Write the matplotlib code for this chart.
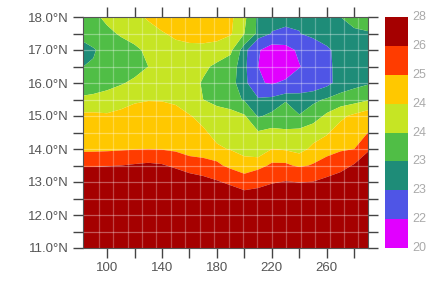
import numpy as np
import matplotlib
matplotlib.use("Agg")
import matplotlib.pyplot as plt
from matplotlib.colors import ListedColormap, BoundaryNorm

lons = [80, 90, 100, 110, 120, 130, 140, 150, 160, 170, 180,
        190, 200, 210, 220, 230, 240, 250, 260, 270, 280, 290]
lats = [18.0, 17.5, 17.0, 16.5, 16.0, 15.5, 15.0, 14.5, 14.0,
        13.5, 13.0, 12.5, 12.0, 11.5, 11.0]

# values per latitude row (north to south), one per longitude
sst = [
    [23.8, 23.9, 24.1, 24.3, 24.4, 24.55, 24.8, 24.9, 24.9, 24.85, 24.8, 24.6, 24.1, 23.4, 23.2, 23.1, 23.1, 23.2, 23.3, 23.5, 23.7, 23.8],
    [23.7, 23.8, 23.9, 24.05, 24.2, 24.35, 24.45, 24.62, 24.7, 24.72, 24.68, 24.55, 24.0, 23.4, 22.97, 22.93, 22.98, 23.2, 23.3, 23.35, 23.4, 23.45],
    [23.15, 23.45, 23.7, 23.8, 23.9, 24.1, 24.2, 24.3, 24.35, 24.35, 24.3, 24.1, 23.25, 22.1, 21.5, 21.6, 22.2, 22.5, 22.9, 23.2, 23.3, 23.35],
    [23.48, 23.55, 23.65, 23.7, 23.8, 24.0, 24.15, 24.25, 24.2, 24.1, 23.9, 23.75, 23.2, 22.0, 21.2, 21.3, 21.95, 22.4, 22.9, 23.15, 23.25, 23.3],
    [23.6, 23.7, 23.8, 23.95, 24.1, 24.2, 24.25, 24.3, 24.2, 23.95, 23.75, 23.65, 23.25, 22.1, 21.9, 22.2, 22.5, 22.6, 22.85, 23.2, 23.35, 23.45],
    [24.1, 24.15, 24.25, 24.35, 24.45, 24.48, 24.48, 24.45, 24.3, 24.0, 23.8, 23.7, 23.45, 23.1, 23.2, 23.45, 23.3, 23.4, 23.55, 23.7, 23.8, 23.95],
    [24.6, 24.6, 24.55, 24.6, 24.65, 24.7, 24.65, 24.6, 24.52, 24.4, 24.3, 24.2, 24.05, 23.45, 23.6, 23.8, 23.52, 23.75, 24.1, 24.4, 24.6, 24.8],
    [24.75, 24.75, 24.78, 24.8, 24.8, 24.82, 24.8, 24.75, 24.7, 24.55, 24.4, 24.3, 24.15, 24.05, 24.15, 24.05, 24.15, 24.3, 24.45, 24.7, 24.85, 25.0],
    [24.8, 24.82, 24.85, 24.9, 24.95, 24.98, 24.95, 24.85, 24.7, 24.65, 24.55, 24.48, 24.42, 24.2, 24.5, 24.45, 24.35, 24.6, 24.75, 24.9, 25.0, 25.9],
    [25.9, 25.9, 25.95, 26.0, 26.1, 26.2, 26.1, 25.8, 25.4, 25.3, 25.15, 24.8, 24.6, 24.8, 25.1, 25.1, 24.9, 25.05, 25.3, 25.6, 26.1, 26.5],
    [27.0, 27.0, 27.0, 27.1, 27.1, 27.1, 27.0, 26.9, 26.7, 26.4, 26.1, 25.8, 25.4, 25.6, 25.9, 26.05, 25.97, 26.02, 26.3, 26.6, 27.0, 27.2],
    [27.3, 27.3, 27.3, 27.3, 27.3, 27.3, 27.2, 27.2, 27.1, 27.0, 26.9, 26.8, 26.6, 26.7, 26.9, 27.0, 27.0, 27.0, 27.1, 27.2, 27.3, 27.4],
    [27.5, 27.5, 27.5, 27.5, 27.5, 27.5, 27.4, 27.4, 27.3, 27.3, 27.2, 27.2, 27.1, 27.2, 27.3, 27.3, 27.3, 27.3, 27.4, 27.4, 27.5, 27.5],
    [27.6, 27.6, 27.6, 27.6, 27.6, 27.6, 27.6, 27.5, 27.5, 27.5, 27.4, 27.4, 27.4, 27.4, 27.5, 27.5, 27.5, 27.5, 27.5, 27.6, 27.6, 27.6],
    [27.7, 27.7, 27.7, 27.7, 27.7, 27.7, 27.7, 27.6, 27.6, 27.6, 27.6, 27.5, 27.5, 27.5, 27.6, 27.6, 27.6, 27.6, 27.6, 27.7, 27.7, 27.7],
]

levels = [20, 22, 23, 23.5, 24, 24.5, 25, 26, 28]
level_labels = ["20", "22", "23", "23", "24", "24", "25", "26", "28"]
colors = ["#E100FF", "#4F55E6", "#1E8C78", "#50BE46",
          "#C6E524", "#FFC800", "#FF3C00", "#A50000"]

xticks_major = [100, 140, 180, 220, 260]
yticks_major = [11, 12, 13, 14, 15, 16, 17, 18]

fig = plt.figure(figsize=(4.28, 2.81), dpi=100)
ax = fig.add_axes([83 / 428, 33 / 281, 285 / 428, 231 / 281])

cmap = ListedColormap(colors)
norm = BoundaryNorm(levels, cmap.N)
X, Y = np.meshgrid(lons, lats)
Z = np.array(sst)
ax.contourf(X, Y, Z, levels=levels, cmap=cmap, norm=norm, antialiased=True)

ax.set_xlim(82.5, 290)
ax.set_ylim(11, 18)

# faint white grid
for gx in np.arange(94, 290, 10.5):
    ax.axvline(gx, color="white", alpha=0.28, lw=0.9)
for gy in np.arange(11.5, 18, 0.5):
    ax.axhline(gy, color="white", alpha=0.35, lw=0.9)

tc = "#555555"
ax.set_xticks(xticks_major)
ax.set_xticks([120, 160, 200, 240, 280], minor=True)
ax.set_yticks(yticks_major)
ax.set_yticks([11.5, 12.5, 13.5, 14.5, 15.5, 16.5, 17.5], minor=True)
ax.set_xticklabels([str(v) for v in xticks_major])
ax.set_yticklabels([f"{v:.1f}°N" for v in yticks_major])
ax.tick_params(which="both", direction="out", length=7, width=1, color="#444444",
               top=True, right=True, labelsize=9.5, labelcolor=tc, pad=3)
for lab in ax.get_xticklabels() + ax.get_yticklabels():
    lab.set_family("Liberation Sans")
for s in ax.spines.values():
    s.set_color("#555555")
    s.set_linewidth(0.8)

# colorbar
cax = fig.add_axes([385 / 428, 33 / 281, 23 / 428, 231 / 281])
cax.imshow(np.arange(len(colors)).reshape(-1, 1), cmap=cmap, aspect="auto",
           origin="lower", extent=[0, 1, 0, len(colors)])
cax.set_xlim(0, 1)
cax.set_ylim(0, len(colors))
cax.set_xticks([])
cax.set_yticks([])
for s in cax.spines.values():
    s.set_visible(False)
for i, lab in enumerate(level_labels):
    cax.text(1.2, i, lab, transform=cax.transData, ha="left", va="center",
             fontsize=9, color="#aaaaaa", family="Liberation Sans", clip_on=False)

fig.savefig("out.png", dpi=100)
